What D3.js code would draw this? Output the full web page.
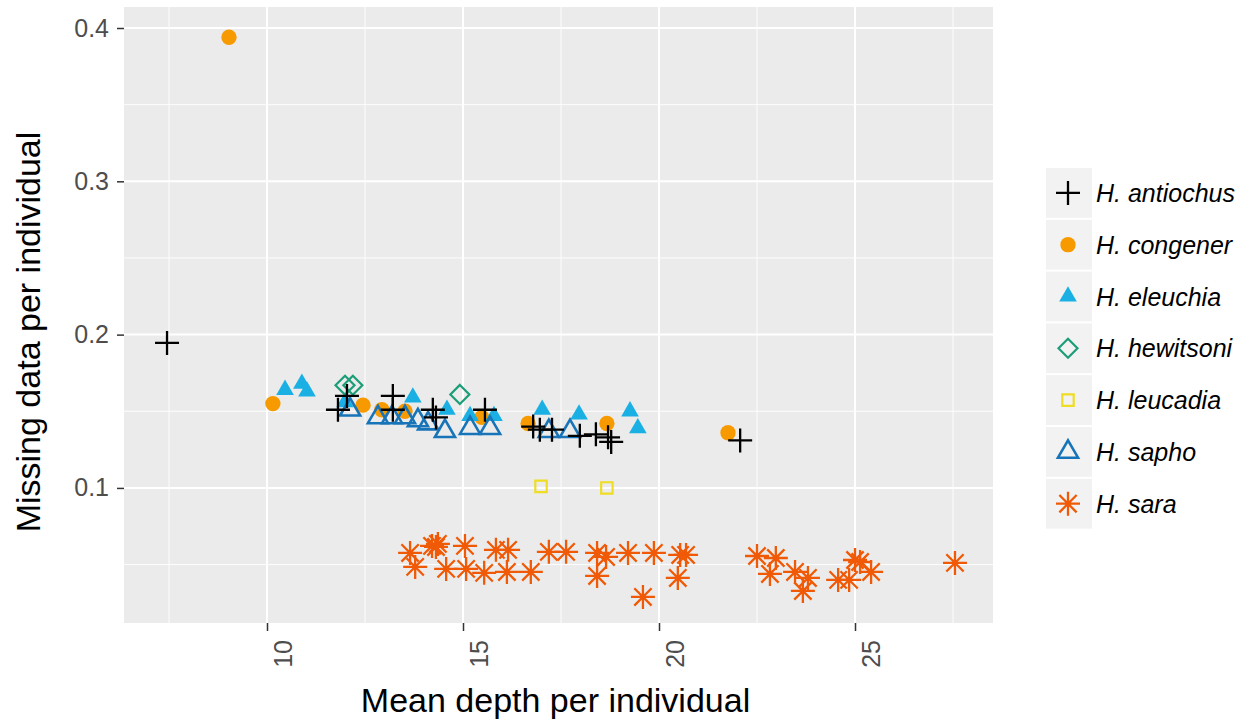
<!DOCTYPE html>
<html><head><meta charset="utf-8">
<script src="https://cdn.jsdelivr.net/npm/d3@7"></script>
<style>body{margin:0;background:#fff}svg{display:block;font-family:"Liberation Sans",Arial,sans-serif}</style>
</head><body>
<svg id="c" width="1252" height="723"></svg>
<script>
const speciesNames = ["H. antiochus","H. congener","H. eleuchia","H. hewitsoni","H. leucadia","H. sapho","H. sara"];
const xTicks = [10,15,20,25];
const yTicks = [0.1,0.2,0.3,0.4];
const yTickLabels = ["0.1","0.2","0.3","0.4"];

const antiochus = [[7.45,0.1946],[11.81,0.151],[12.04,0.160],[13.21,0.160],[13.21,0.151],[14.23,0.151],[14.31,0.146],[15.56,0.151],[16.79,0.140],[16.96,0.138],[17.27,0.138],[17.98,0.134],[18.39,0.135],[18.70,0.133],[18.78,0.130],[22.07,0.131]];
const congener = [[9.03,0.394],[10.15,0.155],[12.45,0.154],[12.93,0.151],[13.52,0.150],[15.48,0.146],[16.66,0.142],[18.67,0.142],[21.76,0.136]];
const eleuchia = [[10.46,0.164],[10.89,0.168],[11.02,0.163],[11.99,0.156],[13.72,0.159],[14.59,0.151],[15.18,0.147],[15.79,0.147],[17.02,0.151],[17.96,0.148],[19.26,0.150],[19.46,0.139]];
const hewitsoni = [[11.99,0.167],[12.19,0.167],[14.92,0.161]];
const leucadia = [[16.99,0.101],[18.67,0.100]];
const sapho = [[12.12,0.151],[12.83,0.146],[13.19,0.146],[13.52,0.146],[13.85,0.144],[14.11,0.142],[14.54,0.137],[15.18,0.139],[15.69,0.139],[17.19,0.137],[17.73,0.137]];
const sara = [[13.65,0.0576],[13.78,0.0485],[14.21,0.0622],[14.36,0.0635],[14.31,0.0615],[14.57,0.0472],[15.05,0.0622],[15.08,0.0472],[15.54,0.0446],[15.84,0.0596],[16.15,0.0596],[16.12,0.0452],[16.73,0.0452],[17.19,0.0583],[17.63,0.0583],[18.42,0.0576],[18.65,0.0550],[18.42,0.0426],[19.21,0.0576],[19.87,0.0576],[20.54,0.0563],[20.69,0.0563],[20.48,0.0413],[19.59,0.0289],[22.50,0.0556],[22.98,0.0543],[22.83,0.0439],[23.47,0.0452],[23.80,0.0413],[23.67,0.0328],[24.57,0.0400],[24.85,0.0400],[25.00,0.0530],[25.13,0.0517],[25.41,0.0452],[27.55,0.0511]];

const svg = d3.select("#c");
const L=124,R=993,T=7,B=623;
const x = d3.scaleLinear().domain([6.352,28.52]).range([L,R]);
const y = d3.scaleLinear().domain([0.0119,0.4137]).range([B,T]);

svg.append("rect").attr("x",L).attr("y",T).attr("width",R-L).attr("height",B-T).attr("fill","#ebebeb");
const xMinor=[7.5,12.5,17.5,22.5,27.5], yMinor=[0.05,0.15,0.25,0.35];
const g=svg.append("g");
xMinor.forEach(v=>g.append("line").attr("x1",x(v)).attr("x2",x(v)).attr("y1",T).attr("y2",B).attr("stroke","#fff").attr("stroke-width",0.9));
yMinor.forEach(v=>g.append("line").attr("y1",y(v)).attr("y2",y(v)).attr("x1",L).attr("x2",R).attr("stroke","#fff").attr("stroke-width",0.9));
xTicks.forEach(v=>g.append("line").attr("x1",x(v)).attr("x2",x(v)).attr("y1",T).attr("y2",B).attr("stroke","#fff").attr("stroke-width",2));
yTicks.forEach(v=>g.append("line").attr("y1",y(v)).attr("y2",y(v)).attr("x1",L).attr("x2",R).attr("stroke","#fff").attr("stroke-width",2));

// axes
const ya = svg.append("g").attr("transform",`translate(${L},0)`)
  .call(d3.axisLeft(y).tickValues(yTicks).tickFormat((d,i)=>yTickLabels[i]).tickSize(7).tickPadding(8));
ya.select(".domain").remove();
ya.selectAll("line").attr("stroke","#333").attr("stroke-width",1.5);
ya.selectAll("text").attr("font-size",25).attr("fill","#4d4d4d").attr("font-family","Liberation Sans, Arial, sans-serif");

const xa = svg.append("g").attr("transform",`translate(0,${B})`)
  .call(d3.axisBottom(x).tickValues(xTicks).tickFormat(d3.format("d")).tickSize(8));
xa.select(".domain").remove();
xa.selectAll("line").attr("stroke","#333").attr("stroke-width",1.5);
xa.selectAll("text").attr("font-size",25).attr("fill","#4d4d4d").attr("font-family","Liberation Sans, Arial, sans-serif")
  .attr("text-anchor","end").attr("dy",null).attr("y",0)
  .attr("transform","translate(24,17) rotate(-90)");

svg.append("text").attr("x",(L+R)/2-3).attr("y",712).attr("text-anchor","middle").attr("font-size",34).attr("fill","#000").text("Mean depth per individual");
svg.append("text").attr("transform",`translate(40,${(T+B)/2+17}) rotate(-90)`).attr("text-anchor","middle").attr("font-size",34).attr("fill","#000").text("Missing data per individual");

// symbols
function plusPath(r){return `M${-r},0L${r},0M0,${-r}L0,${r}`;}
function starPath(r){const d=r*0.72;return `M${-r},0L${r},0M0,${-r}L0,${r}M${-d},${-d}L${d},${d}M${-d},${d}L${d},${-d}`;}
function diamondPath(r){return `M0,${-r}L${r},0L0,${r}L${-r},0Z`;}
const styles = {
  "H. antiochus":{path:plusPath(12),fill:"none",stroke:"#000",sw:2.3},
  "H. congener":{path:d3.symbol(d3.symbolCircle,185)(),fill:"#f79a00",stroke:"none",sw:0},
  "H. eleuchia":{path:d3.symbol(d3.symbolTriangle,135)(),fill:"#1bb0e4",stroke:"none",sw:0},
  "H. hewitsoni":{path:diamondPath(9.5),fill:"none",stroke:"#1a9e78",sw:2.2},
  "H. leucadia":{path:d3.symbol(d3.symbolSquare,130)(),fill:"none",stroke:"#eedd22",sw:2.2},
  "H. sapho":{path:d3.symbol(d3.symbolTriangle,175)(),fill:"none",stroke:"#1774b8",sw:2.6},
  "H. sara":{path:starPath(12),fill:"none",stroke:"#f05a06",sw:2.3}
};
const dataBy = {"H. antiochus":antiochus,"H. congener":congener,"H. eleuchia":eleuchia,"H. hewitsoni":hewitsoni,"H. leucadia":leucadia,"H. sapho":sapho,"H. sara":sara};
const drawOrder = ["H. congener","H. eleuchia","H. sapho","H. hewitsoni","H. leucadia","H. antiochus","H. sara"];
drawOrder.forEach(s=>{
  const st=styles[s];
  svg.append("g").selectAll("path").data(dataBy[s]).join("path")
    .attr("d",st.path).attr("transform",d=>`translate(${x(d[0])},${y(d[1])})`)
    .attr("fill",st.fill).attr("stroke",st.stroke).attr("stroke-width",st.sw);
});

// legend
const lg = svg.append("g");
const keyTop=168, keyH=51.8;
speciesNames.forEach((s,i)=>{
  const yc = keyTop + i*keyH;
  lg.append("rect").attr("x",1046).attr("y",yc).attr("width",46).attr("height",keyH-2).attr("fill","#f2f2f2");
  const st=styles[s];
  lg.append("path").attr("d",st.path).attr("transform",`translate(1068,${yc+keyH/2-1})`)
    .attr("fill",st.fill).attr("stroke",st.stroke).attr("stroke-width",st.sw);
  lg.append("text").attr("x",1096).attr("y",yc+keyH/2+8).attr("font-size",25).attr("font-style","italic").attr("fill","#000").text(s);
});
</script>
</body></html>
